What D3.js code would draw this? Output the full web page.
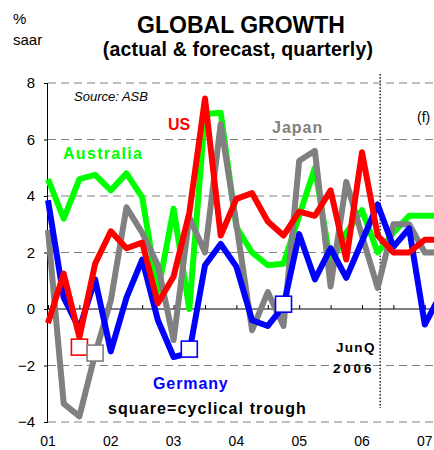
<!DOCTYPE html>
<html><head><meta charset="utf-8">
<script src="https://cdn.jsdelivr.net/npm/d3@7"></script>
<style>
body{margin:0;background:#fff;}
svg{display:block;font-family:"Liberation Sans",Arial,sans-serif;}
</style></head>
<body><svg id="c" width="434" height="450"></svg>
<script>
// quarters from 2001 Q1 (Mar) to 2007 Q2
const quarters = d3.range(26);
const yearLabels = ["01","02","03","04","05","06","07"];
const yTicks = [-4,-2,0,2,4,6,8];

const australia = [4.6,3.2,4.6,4.75,4.2,4.8,3.95,0.6,3.55,0.0,6.9,6.95,2.9,2.0,1.55,1.6,3.3,5.0,1.6,2.7,3.5,2.0,2.7,3.3,3.3,3.3];
const japan     = [2.8,-3.35,-3.8,-1.6,0.3,3.6,2.7,1.55,-1.1,3.25,2.0,6.55,3.0,-0.75,0.6,-0.6,5.25,5.6,0.8,4.5,2.6,0.75,3.0,3.0,2.0,2.0];
const germany   = [3.85,0.4,-0.7,1.05,-1.5,0.4,1.75,-0.4,-1.7,-1.55,1.55,2.3,1.5,-0.4,-0.6,0.1,2.65,1.05,2.15,1.1,2.4,3.7,2.2,2.85,-0.55,0.5];
const us        = [-0.5,1.25,-1.0,1.6,2.75,2.15,2.35,0.2,1.15,3.4,7.45,2.6,3.9,4.1,3.1,2.6,3.45,3.3,4.2,1.75,5.55,2.6,2.0,2.0,2.45,2.45];

// cyclical trough markers: [quarter index, value, series]
const troughQ = [2,3,9,15];
const troughV = [-1.35,-1.56,-1.42,0.17];
const troughS = ["us","japan","germany","germany"];

const colors = {australia:"#00ff00", japan:"#808080", germany:"#0000ff", us:"#ff0000"};
const seriesNames = ["australia","japan","germany","us"];
const seriesData = {australia, japan, germany, us};

const svg = d3.select("#c");
const x = d3.scaleLinear().domain([0,24]).range([48,424.8]);
const y = d3.scaleLinear().domain([-4,8]).range([422,83]);
const W = 434;

// gridlines
svg.append("g").selectAll("line").data(yTicks.filter(d=>d!==0)).join("line")
  .attr("x1",x(0)).attr("x2",W).attr("y1",d=>y(d)).attr("y2",d=>y(d))
  .attr("stroke","#808080").attr("stroke-width",1).attr("stroke-dasharray","8,5");

// y axis
const yAxis = svg.append("g").attr("transform",`translate(${x(0)},0)`)
  .call(d3.axisLeft(y).tickValues(yTicks).tickSize(4).tickFormat(d3.format("d")));
yAxis.select(".domain").attr("stroke","#000").attr("d",`M-0.5,${y(8)}V${y(-4)}`);
yAxis.selectAll(".tick line").attr("stroke","#000");
yAxis.selectAll(".tick text").attr("x",-13).attr("font-size",15).attr("fill","#000")
  .attr("font-family","Liberation Sans, Arial, sans-serif");

// x axis at zero
const xAxis = svg.append("g").attr("transform",`translate(0,${y(0)})`)
  .call(d3.axisTop(x).tickValues(d3.range(0,26,2)).tickSize(4).tickFormat(""));
xAxis.select(".domain").attr("d",`M${x(0)},0H${W}`).attr("stroke","#000");
xAxis.selectAll(".tick line").attr("stroke","#000");

// year labels
svg.append("g").selectAll("text").data(yearLabels).join("text")
  .attr("x",(d,i)=>Math.min(x(i*4),W-9)).attr("y",446).attr("text-anchor","middle")
  .attr("font-size",14).text(d=>d);

// dotted vertical line at JunQ 2006
svg.append("line").attr("x1",x(21)+2.5).attr("x2",x(21)+2.5).attr("y1",74).attr("y2",408)
  .attr("stroke","#000").attr("stroke-width",1.3).attr("stroke-dasharray","1.5,1.8");

// lines
const line = d3.line().x((d,i)=>x(quarters[i])).y(d=>y(d));
seriesNames.forEach(s=>{
  svg.append("path").datum(seriesData[s]).attr("d",line)
    .attr("fill","none").attr("stroke",colors[s]).attr("stroke-width",6)
    .attr("stroke-linejoin","round");
});

// trough squares
svg.append("g").selectAll("rect").data(troughQ).join("rect")
  .attr("x",(d)=>x(d)-8).attr("y",(d,i)=>y(troughV[i])-8)
  .attr("width",16).attr("height",16).attr("fill","#fff")
  .attr("stroke",(d,i)=>colors[troughS[i]]).attr("stroke-width",1.6);

// texts
const T = (t,xp,yp,o={})=>svg.append("text").attr("x",xp).attr("y",yp)
  .attr("font-size",o.size||16).attr("font-weight",o.w||"bold")
  .attr("fill",o.c||"#000").attr("letter-spacing",o.ls||0)
  .attr("text-anchor",o.a||"start").attr("font-style",o.st||"normal").text(t);

T("%",13,24,{size:15,w:"normal"});
T("saar",13,45,{size:15,w:"normal"});
T("GLOBAL GROWTH",241,33,{size:23,a:"middle"});
T("(actual & forecast, quarterly)",238,56,{size:19.5,a:"middle",ls:0.2});
T("Source: ASB",74,101,{size:13,w:"normal",st:"italic"});
T("Australia",63,159,{c:colors.australia,ls:1.3});
T("US",168,130,{c:colors.us});
T("Japan",272,133,{c:colors.japan,ls:1});
T("(f)",417,122,{size:14,w:"normal"});
T("JunQ",336,352,{size:13.5,ls:1.3});
T("2006",333,373,{size:13.5,ls:2.8});
T("Germany",153,389,{c:colors.germany,ls:0.9});
T("square=cyclical trough",108,414,{ls:1.1});
</script></body></html>
